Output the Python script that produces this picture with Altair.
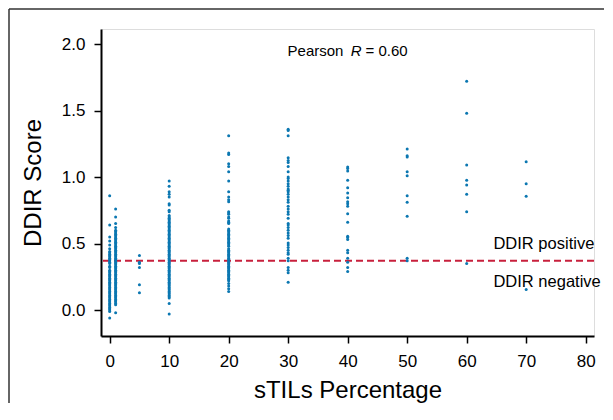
import altair as alt
import pandas as pd

# sTILs percentage levels and DDIR scores observed at each level
STILS = [0, 1, 5, 10, 20, 30, 40, 50, 60, 70]

DDIR_AT_0 = [0.86, 0.64, 0.55, 0.52, 0.49, 0.46, 0.44, 0.43, 0.42, 0.41, 0.40, 0.39,
             0.38, 0.37, 0.36, 0.35, 0.33, 0.32, 0.30, 0.29, 0.28, 0.27, 0.26, 0.25,
             0.24, 0.23, 0.22, 0.21, 0.20, 0.19, 0.18, 0.17, 0.16, 0.15, 0.14, 0.13,
             0.12, 0.11, 0.10, 0.09, 0.08, 0.07, 0.06, 0.05, 0.04, 0.03, 0.02, 0.01,
             0.00, -0.01, -0.06]
DDIR_AT_1 = [0.76, 0.70, 0.65, 0.62, 0.60, 0.59, 0.58, 0.57, 0.56, 0.55, 0.54, 0.53,
             0.52, 0.51, 0.50, 0.49, 0.48, 0.47, 0.46, 0.45, 0.44, 0.43, 0.42, 0.41,
             0.40, 0.39, 0.38, 0.37, 0.36, 0.35, 0.34, 0.33, 0.32, 0.31, 0.30, 0.29,
             0.28, 0.27, 0.26, 0.25, 0.24, 0.23, 0.22, 0.21, 0.20, 0.19, 0.18, 0.17,
             0.16, 0.15, 0.14, 0.13, 0.12, 0.11, 0.10, 0.09, 0.08, 0.07, 0.06, 0.05,
             0.04, -0.02]
DDIR_AT_5 = [0.41, 0.36, 0.35, 0.32, 0.19, 0.13]
DDIR_AT_10 = [0.97, 0.93, 0.89, 0.87, 0.85, 0.80, 0.79, 0.75, 0.74, 0.71, 0.70, 0.69,
              0.68, 0.67, 0.66, 0.65, 0.64, 0.63, 0.62, 0.61, 0.60, 0.59, 0.58, 0.57,
              0.56, 0.55, 0.54, 0.53, 0.52, 0.51, 0.50, 0.49, 0.48, 0.47, 0.46, 0.45,
              0.44, 0.43, 0.42, 0.41, 0.40, 0.39, 0.38, 0.37, 0.36, 0.35, 0.34, 0.33,
              0.32, 0.31, 0.30, 0.29, 0.28, 0.27, 0.26, 0.25, 0.24, 0.23, 0.22, 0.21,
              0.20, 0.19, 0.18, 0.17, 0.16, 0.15, 0.14, 0.13, 0.12, 0.11, 0.10, 0.09,
              0.05, -0.03]
DDIR_AT_20 = [1.31, 1.18, 1.17, 1.10, 1.08, 1.04, 0.97, 0.89, 0.85, 0.83, 0.815, 0.74,
              0.73, 0.72, 0.70, 0.69, 0.67, 0.66, 0.65, 0.61, 0.60, 0.59, 0.58, 0.57,
              0.56, 0.55, 0.54, 0.53, 0.52, 0.51, 0.50, 0.49, 0.48, 0.46, 0.45, 0.44,
              0.43, 0.42, 0.41, 0.40, 0.39, 0.38, 0.37, 0.36, 0.35, 0.34, 0.33, 0.32,
              0.31, 0.30, 0.29, 0.28, 0.27, 0.26, 0.25, 0.24, 0.23, 0.22, 0.20, 0.18,
              0.16, 0.14]
DDIR_AT_30 = [1.36, 1.35, 1.31, 1.145, 1.125, 1.11, 1.08, 1.04, 1.00, 0.99, 0.97, 0.95,
              0.93, 0.91, 0.90, 0.89, 0.87, 0.85, 0.83, 0.81, 0.78, 0.76, 0.74, 0.72,
              0.69, 0.65, 0.64, 0.62, 0.60, 0.58, 0.56, 0.54, 0.505, 0.49, 0.47, 0.45,
              0.43, 0.42, 0.39, 0.37, 0.32, 0.30, 0.28, 0.21]
DDIR_AT_40 = [1.075, 1.065, 1.045, 0.975, 0.92, 0.88, 0.845, 0.815, 0.80, 0.78, 0.725,
              0.66, 0.555, 0.545, 0.53, 0.45, 0.43, 0.39, 0.36, 0.32, 0.29]
DDIR_AT_50 = [1.21, 1.16, 1.15, 1.04, 1.01, 0.86, 0.81, 0.705, 0.39, 0.37]
DDIR_AT_60 = [1.72, 1.48, 1.09, 0.975, 0.94, 0.87, 0.74, 0.35]
DDIR_AT_70 = [1.115, 0.95, 0.855, 0.155]

DDIR_BY_LEVEL = [DDIR_AT_0, DDIR_AT_1, DDIR_AT_5, DDIR_AT_10, DDIR_AT_20,
                 DDIR_AT_30, DDIR_AT_40, DDIR_AT_50, DDIR_AT_60, DDIR_AT_70]

CUTOFF = [0.37]
X_TICKS = [0, 10, 20, 30, 40, 50, 60, 70, 80]
Y_TICKS = [0.0, 0.5, 1.0, 1.5, 2.0]
X_DOMAIN = [-1.46, 81.4]
Y_DOMAIN = [-0.195, 2.113]

PEARSON_TEXT = ["Pearson", "= 0.60"]
PEARSON_X = [29.9, 43.0]
PEARSON_Y = [1.95, 1.95]
ITALIC_TEXT = ["R"]
ITALIC_X = [40.5]
ITALIC_Y = [1.95]
ZONE_TEXT = ["DDIR positive", "DDIR negative"]
ZONE_X = [64.5, 64.5]
ZONE_Y = [0.496, 0.21]

points = pd.DataFrame(
    [{"x": lvl, "y": v} for lvl, vals in zip(STILS, DDIR_BY_LEVEL) for v in vals]
)
cutoff_df = pd.DataFrame({"y": CUTOFF})
pearson_df = pd.DataFrame({"x": PEARSON_X, "y": PEARSON_Y, "t": PEARSON_TEXT})
italic_df = pd.DataFrame({"x": ITALIC_X, "y": ITALIC_Y, "t": ITALIC_TEXT})
zone_df = pd.DataFrame({"x": ZONE_X, "y": ZONE_Y, "t": ZONE_TEXT})
one = pd.DataFrame({"a": [0]})

W, H = 493, 307
TICK_FONT = "Liberation Sans"
TITLE_FONT = "Liberation Sans"

x_axis = alt.Axis(values=X_TICKS, title="sTILs Percentage", grid=False,
                  domainColor="black", domainWidth=2, tickColor="black",
                  tickWidth=1.5, tickSize=7, labelFont=TICK_FONT, labelFontSize=17,
                  labelColor="black", labelPadding=10, titleFont=TITLE_FONT,
                  titleFontSize=24, titleFontWeight="normal", titleColor="black",
                  titlePadding=9, labelFlush=False)
y_axis = alt.Axis(values=Y_TICKS, format=".1f", title="DDIR Score", grid=False,
                  domainColor="black", domainWidth=2, tickColor="black",
                  tickWidth=1.5, tickSize=7, labelFont=TICK_FONT, labelFontSize=17,
                  labelColor="black", labelPadding=9, titleFont=TITLE_FONT,
                  titleFontSize=24, titleFontWeight="normal", titleColor="black",
                  titlePadding=16, labelFlush=False)

X_ENC = alt.X("x:Q", scale=alt.Scale(domain=X_DOMAIN, nice=False, zero=False), axis=x_axis)
Y_ENC = alt.Y("y:Q", scale=alt.Scale(domain=Y_DOMAIN, nice=False, zero=False), axis=y_axis)

dots = alt.Chart(points).mark_circle(size=9, color="#0b77b1", opacity=1).encode(
    x=X_ENC, y=Y_ENC)

cut = alt.Chart(cutoff_df).mark_rule(color="#c8203c", strokeWidth=2,
                                     strokeDash=[7, 4]).encode(y=Y_ENC)

pearson = alt.Chart(pearson_df).mark_text(align="left", baseline="middle",
                                          font=TICK_FONT, fontSize=15,
                                          color="black").encode(
    x=X_ENC, y=Y_ENC, text="t:N")
italic = alt.Chart(italic_df).mark_text(align="left", baseline="middle",
                                        font=TICK_FONT, fontSize=15, fontStyle="italic",
                                        color="black").encode(
    x=X_ENC, y=Y_ENC, text="t:N")
zones = alt.Chart(zone_df).mark_text(align="left", baseline="middle",
                                     font=TICK_FONT, fontSize=16.5,
                                     color="black").encode(
    x=X_ENC, y=Y_ENC, text="t:N")

frame_top = alt.Chart(one).mark_rule(color="#333333", strokeWidth=1.5).encode(
    x=alt.value(-92), x2=alt.value(503), y=alt.value(-20))
frame_left = alt.Chart(one).mark_rule(color="#333333", strokeWidth=1.5).encode(
    x=alt.value(-92), y=alt.value(-20), y2=alt.value(374))

chart = alt.layer(frame_top, frame_left, cut, dots, pearson, italic, zones).properties(
    width=W, height=H, padding=0
).configure_view(strokeWidth=0).configure(background="white")

chart.save("out.html", embed_options={"renderer": "svg", "actions": False})
